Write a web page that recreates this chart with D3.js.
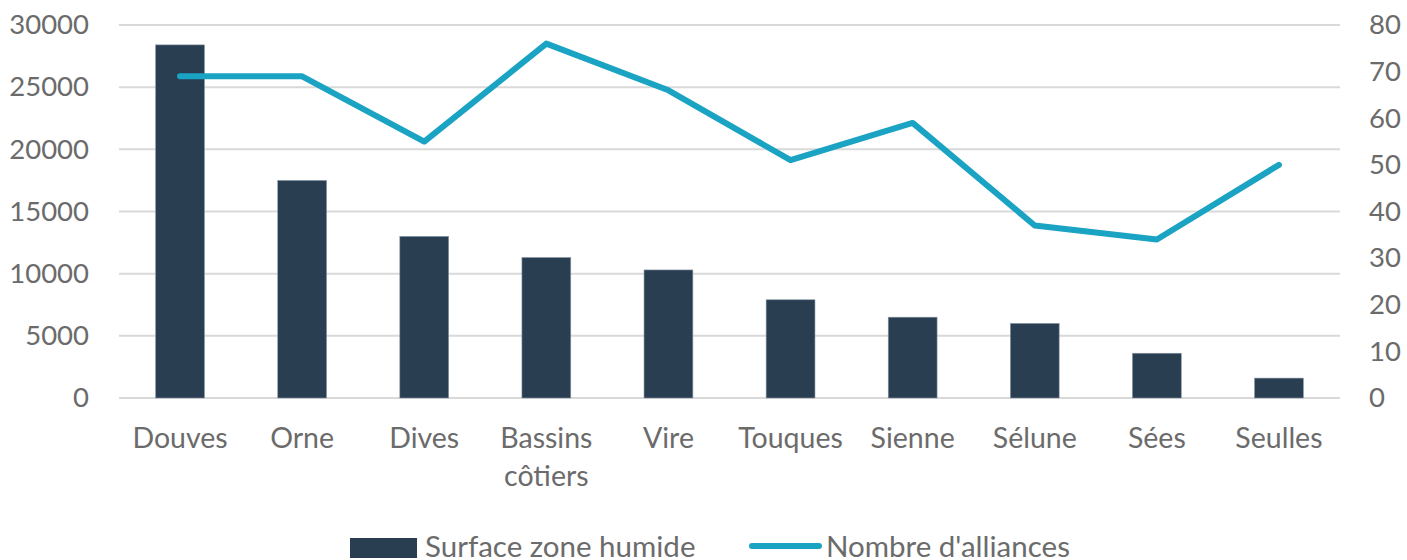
<!DOCTYPE html>
<html>
<head>
<meta charset="utf-8">
<script src="https://cdn.jsdelivr.net/npm/d3@7"></script>
<style>
  body { margin: 0; background: #fff; }
  text { font-family: Lato, "Open Sans", sans-serif; fill: #6b6b6b; }
</style>
</head>
<body>
<svg width="1407" height="560"></svg>
<script>
(()=>{
	//data
	let categories = ["Douves", "Orne", "Dives", "Bassins côtiers", "Vire", "Touques", "Sienne", "Sélune", "Sées", "Seulles"];
	let surface = [28400, 17500, 13000, 11300, 10300, 7900, 6500, 6000, 3600, 1600];
	let alliances = [69, 69, 55, 76, 66, 51, 59, 37, 34, 50];
	let leftTicks = [0, 5000, 10000, 15000, 20000, 25000, 30000];
	let rightTicks = [0, 10, 20, 30, 40, 50, 60, 70, 80];
	let seriesNames = ["Surface zone humide", "Nombre d'alliances"];

	let barColor = "#2a3e52",
		lineColor = "#1aa3c3",
		gridColor = "#d9d9d9";

	let svg = d3.select("svg");
	let left = 119, right = 1340, top = 25, bottom = 398;

	let x = d3.scaleBand().domain(categories).range([left, right]).paddingInner(0.6).paddingOuter(0.3);
	let xc = d3.scalePoint().domain(categories).range([left, right]).padding(0.5);
	let yL = d3.scaleLinear().domain([0, 30000]).range([bottom, top]);
	let yR = d3.scaleLinear().domain([0, 80]).range([bottom, top]);

	//gridlines
	svg.append("g").selectAll("line").data(leftTicks).enter()
		.append("line")
		.attr("x1", left).attr("x2", right)
		.attr("y1", d => yL(d)).attr("y2", d => yL(d))
		.attr("stroke", gridColor).attr("stroke-width", 2);

	//left axis
	let axL = svg.append("g").attr("transform", "translate(" + (left - 30) + ",0)")
		.call(d3.axisLeft(yL).tickValues(leftTicks).tickSize(0).tickPadding(0).tickFormat(d3.format("d")));
	axL.select(".domain").remove();
	axL.selectAll("text").style("font-size", "27.5px").attr("fill", "#6b6b6b").attr("font-family", null);

	//right axis
	let axR = svg.append("g").attr("transform", "translate(" + (right + 29) + ",0)")
		.call(d3.axisRight(yR).tickValues(rightTicks).tickSize(0).tickPadding(0));
	axR.select(".domain").remove();
	axR.selectAll("text").style("font-size", "27.5px").attr("fill", "#6b6b6b").attr("font-family", null);

	//bars
	svg.append("g").selectAll("rect").data(categories).enter()
		.append("rect")
		.attr("x", d => x(d))
		.attr("y", (d, i) => yL(surface[i]))
		.attr("width", x.bandwidth())
		.attr("height", (d, i) => yL(0) - yL(surface[i]))
		.attr("fill", barColor)
		.attr("stroke", "#8a97a5").attr("stroke-width", 0.6);

	//line
	let line = d3.line().x((d, i) => xc(categories[i])).y(d => yR(d));
	svg.append("path").datum(alliances)
		.attr("d", line)
		.attr("fill", "none")
		.attr("stroke", lineColor)
		.attr("stroke-width", 6)
		.attr("stroke-linecap", "round")
		.attr("stroke-linejoin", "round");

	//category labels
	let lab = svg.append("g").selectAll("text").data(categories).enter()
		.append("text")
		.attr("text-anchor", "middle")
		.style("font-size", "28.5px")
		.attr("x", d => xc(d))
		.attr("y", 448);
	lab.each(function(d){
		let words = d.split(" ");
		d3.select(this).selectAll("tspan").data(words).enter()
			.append("tspan")
			.attr("x", xc(d))
			.attr("dy", (w, i) => i ? 38 : 0)
			.text(w => w);
	});

	//legend
	let lg = svg.append("g");
	lg.append("rect").attr("x", 350).attr("y", 538).attr("width", 67).attr("height", 20).attr("fill", barColor);
	lg.append("text").attr("x", 425).attr("y", 557).style("font-size", "29.5px").text(seriesNames[0]);
	lg.append("line").attr("x1", 752).attr("x2", 819).attr("y1", 546).attr("y2", 546)
		.attr("stroke", lineColor).attr("stroke-width", 6).attr("stroke-linecap", "round");
	lg.append("text").attr("x", 826).attr("y", 557).style("font-size", "29.5px").text(seriesNames[1]);
})();
</script>
</body>
</html>
